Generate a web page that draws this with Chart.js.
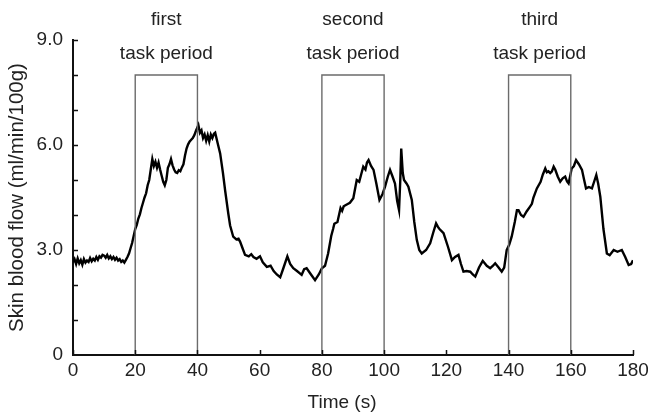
<!doctype html>
<html lang="en">
<head>
<meta charset="utf-8">
<title>Skin blood flow</title>
<style>
    * { padding: 0; margin: 0; }
    body { background: #fff; }
    #wrap { width: 648px; height: 414px; }
</style>
<script src="https://cdn.jsdelivr.net/npm/chart.js"></script>
</head>
<body>
<div id="wrap"><canvas id="flowChart" width="648" height="414"></canvas></div>
<script>
// time (s) and skin blood flow (ml/min/100g)
const times = [
    0, 0.5, 1, 1.5, 2, 2.5, 3, 3.5, 4, 4.5, 5, 5.5, 6, 6.5, 7, 7.5, 8, 8.5, 9, 9.5,
    10, 10.5, 11, 11.5, 12, 12.5, 13, 13.5, 14, 14.5, 15, 15.5, 16, 16.5, 17, 17.5, 18, 18.5, 19, 19.5,
    20, 20.5, 21, 21.5, 22, 22.5, 23, 23.5, 24, 24.5, 25, 25.5, 26, 26.5, 27, 27.5, 28, 28.5, 29, 29.5,
    30, 30.5, 31, 31.5, 32, 32.5, 33, 33.5, 34, 34.5, 35, 35.5, 36, 36.5, 37, 37.5, 38, 38.5, 39, 39.5,
    40.3, 40.8, 41.3, 41.8, 42.3, 42.8, 43.3, 43.8, 44.3, 44.8, 45.3, 45.7, 46.5, 47.3, 48.2, 48.9, 49.9, 50.5, 51.5, 52.5,
    53.2, 53.7, 54.5, 55.3, 56.5, 57.3, 58, 59, 60.1, 61, 62.3, 63.5, 64.5, 65.5, 66.6, 67.5, 68.9, 69.8, 70.8, 72,
    73.5, 74.3, 75.1, 76.5, 77.8, 79, 80, 81, 82, 83, 83.6, 84, 85, 86, 86.5, 87, 88, 89, 90.1, 91.2,
    92, 92.6, 93.3, 94, 94.5, 95, 95.8, 96.6, 97.5, 98.5, 99.5, 100.3, 101.2, 101.9, 102.7, 103.5, 104.2, 104.8, 105.2, 105.5,
    106, 106.4, 107.2, 107.8, 108.9, 109.7, 110.5, 111.3, 112.1, 113.5, 114.8, 115.8, 116.7, 117.3, 117.8, 119.1, 120.5, 121.8, 122.8, 123.9,
    124.7, 125.5, 126.5, 127.7, 128.5, 129.3, 130.5, 131.7, 133, 134.1, 135, 135.7, 136.8, 137.8, 138.6, 139.4, 140.2, 141, 142, 142.7,
    143.2, 144, 144.8, 145.8, 146.9, 147.5, 148, 149.1, 150.3, 151, 151.8, 152.3, 152.8, 153.4, 153.9, 154.5, 155, 155.8, 156.6, 157.4,
    158.2, 158.8, 159.3, 160.3, 161, 161.7, 162.6, 163.6, 164.3, 164.9, 165.8, 166.8, 167.5, 168.2, 168.8, 169.5, 170.5, 171.6, 172.5, 173.8,
    175, 176.4, 177.5, 178.6, 179.4, 180
];
const flow = [
    2.65, 2.74, 2.6, 2.76, 2.62, 2.71, 2.58, 2.74, 2.64, 2.7, 2.66, 2.77, 2.68, 2.75, 2.7, 2.8, 2.72, 2.82, 2.78, 2.86,
    2.84, 2.78, 2.86, 2.76, 2.82, 2.74, 2.8, 2.72, 2.78, 2.7, 2.74, 2.66, 2.7, 2.64, 2.72, 2.8, 2.9, 3.05, 3.2, 3.4,
    3.6, 3.72, 3.9, 4.02, 4.2, 4.35, 4.5, 4.62, 4.85, 5.0, 5.3, 5.6, 5.4, 5.52, 5.35, 5.5, 5.3, 5.12, 4.95, 4.85,
    5.0, 5.35, 5.45, 5.6, 5.42, 5.3, 5.22, 5.2, 5.28, 5.25, 5.36, 5.45, 5.7, 5.9, 6.02, 6.1, 6.15, 6.2, 6.28, 6.4,
    6.57, 6.35, 6.42, 6.2, 6.3, 6.12, 6.28, 6.1, 6.3, 6.2, 6.32, 6.35, 6.05, 5.76, 5.2, 4.7, 4.05, 3.7, 3.38, 3.3,
    3.32, 3.24, 3.05, 2.86, 2.82, 2.88, 2.8, 2.75, 2.82, 2.65, 2.52, 2.55, 2.4, 2.3, 2.22, 2.45, 2.82, 2.6, 2.48, 2.4,
    2.29, 2.45, 2.48, 2.3, 2.14, 2.3, 2.48, 2.55, 2.9, 3.4, 3.6, 3.75, 3.8, 4.2, 4.12, 4.25, 4.3, 4.35, 4.48, 5.0,
    4.95, 5.15, 5.38, 5.3, 5.5, 5.57, 5.4, 5.29, 4.9, 4.43, 4.6, 4.81, 5.1, 5.29, 5.1, 4.9, 4.4, 4.14, 5.0, 5.9,
    5.2, 5.0, 4.9, 4.81, 4.43, 3.8, 3.29, 3.0, 2.9, 3.0, 3.19, 3.5, 3.76, 3.66, 3.6, 3.48, 3.1, 2.71, 2.8, 2.86,
    2.6, 2.38, 2.4, 2.38, 2.3, 2.24, 2.5, 2.69, 2.55, 2.48, 2.55, 2.62, 2.5, 2.38, 2.5, 3.0, 3.15, 3.38, 3.8, 4.14,
    4.14, 4.0, 3.95, 4.1, 4.24, 4.32, 4.5, 4.76, 4.95, 5.15, 5.33, 5.22, 5.25, 5.2, 5.24, 5.38, 5.3, 5.1, 4.95, 5.05,
    5.1, 4.96, 4.9, 5.33, 5.4, 5.57, 5.45, 5.29, 5.0, 4.76, 4.8, 4.76, 4.95, 5.14, 4.9, 4.52, 3.6, 2.9, 2.85, 3.0,
    2.95, 3.0, 2.8, 2.57, 2.6, 2.71
];

// task periods (s) and the height of their boxes
const taskStart = [20, 80, 140];
const taskEnd = [40, 100, 160];
const taskTop = 8;
const taskNames = ['first', 'second', 'third'];
const taskLabel = 'task period';

const xTicks = [0, 20, 40, 60, 80, 100, 120, 140, 160, 180];
const yLabels = [0, 3, 6, 9];

const FONT = 'Liberation Sans';
const TEXT = '#222';

const traceData = times.map((t, i) => ({ x: t, y: flow[i] }));

const boxSets = taskStart.map((s, i) => ({
    label: taskNames[i],
    data: [{ x: s, y: 0 }, { x: s, y: taskTop }, { x: taskEnd[i], y: taskTop }, { x: taskEnd[i], y: 0 }],
    showLine: true,
    borderColor: '#6b6b6b',
    borderWidth: 1.4,
    pointRadius: 0,
    fill: false
}));

const decor = {
    id: 'decor',
    afterDraw(chart) {
        const { ctx, chartArea } = chart;
        const xs = chart.scales.x, ys = chart.scales.y;
        ctx.save();
        // inward tick marks
        ctx.strokeStyle = '#111';
        ctx.lineWidth = 1.5;
        ctx.beginPath();
        for (let v = 1; v <= 9; v++) {
            const py = Math.round(ys.getPixelForValue(v)) + 0.5;
            ctx.moveTo(chartArea.left, py);
            ctx.lineTo(chartArea.left + 5, py);
        }
        xTicks.forEach(v => {
            const px = Math.round(xs.getPixelForValue(v)) + 0.5;
            ctx.moveTo(px, chartArea.bottom);
            ctx.lineTo(px, chartArea.bottom - 5);
        });
        ctx.stroke();
        // task period labels
        ctx.fillStyle = TEXT;
        ctx.font = '19px "' + FONT + '"';
        ctx.textAlign = 'center';
        ctx.textBaseline = 'alphabetic';
        taskStart.forEach((s, i) => {
            const cx = xs.getPixelForValue((s + taskEnd[i]) / 2);
            ctx.fillText(taskNames[i], cx, 25);
            ctx.fillText(taskLabel, cx, 59);
        });
        // x axis title, sits a little left of the axis centre in the original
        ctx.fillText('Time (s)', (chartArea.left + chartArea.right) / 2 - 11, 408);
        ctx.restore();
    }
};

const config = {
    type: 'scatter',
    data: {
        datasets: [...boxSets, {
            label: 'Skin blood flow',
            data: traceData,
            showLine: true,
            borderColor: '#000',
            borderWidth: 2.4,
            pointRadius: 0,
            tension: 0,
            fill: false
        }]
    },
    options: {
        responsive: false,
        animation: false,
        layout: { padding: { top: 40, right: 15, left: 0, bottom: 0 } },
        plugins: { legend: { display: false }, tooltip: { enabled: false } },
        scales: {
            x: {
                type: 'linear',
                min: 0,
                max: 180,
                afterBuildTicks: s => { s.ticks = xTicks.map(v => ({ value: v })); },
                afterFit: s => { s.height = 59; s.paddingLeft = 0; s.paddingRight = 0; },
                grid: { display: true, drawOnChartArea: false, drawTicks: false },
                border: { display: true, color: '#111', width: 2 },
                ticks: { color: TEXT, font: { family: FONT, size: 19 }, padding: 4, maxRotation: 0 },
                title: { display: false }
            },
            y: {
                min: 0,
                max: 9,
                afterBuildTicks: s => { s.ticks = yLabels.map(v => ({ value: v })); },
                afterFit: s => { s.width = 73; s.paddingTop = 0; s.paddingBottom = 0; },
                grid: { display: true, drawOnChartArea: false, drawTicks: false },
                border: { display: true, color: '#111', width: 2 },
                ticks: {
                    color: TEXT,
                    font: { family: FONT, size: 19 },
                    padding: 10,
                    callback: v => v === 0 ? '0' : v.toFixed(1)
                },
                title: { display: true, text: 'Skin blood flow (ml/min/100g)', color: TEXT, font: { family: FONT, size: 20.5 }, padding: { top: 5, bottom: 0 } }
            }
        }
    },
    plugins: [decor]
};

new Chart(document.getElementById('flowChart'), config);
</script>
</body>
</html>
